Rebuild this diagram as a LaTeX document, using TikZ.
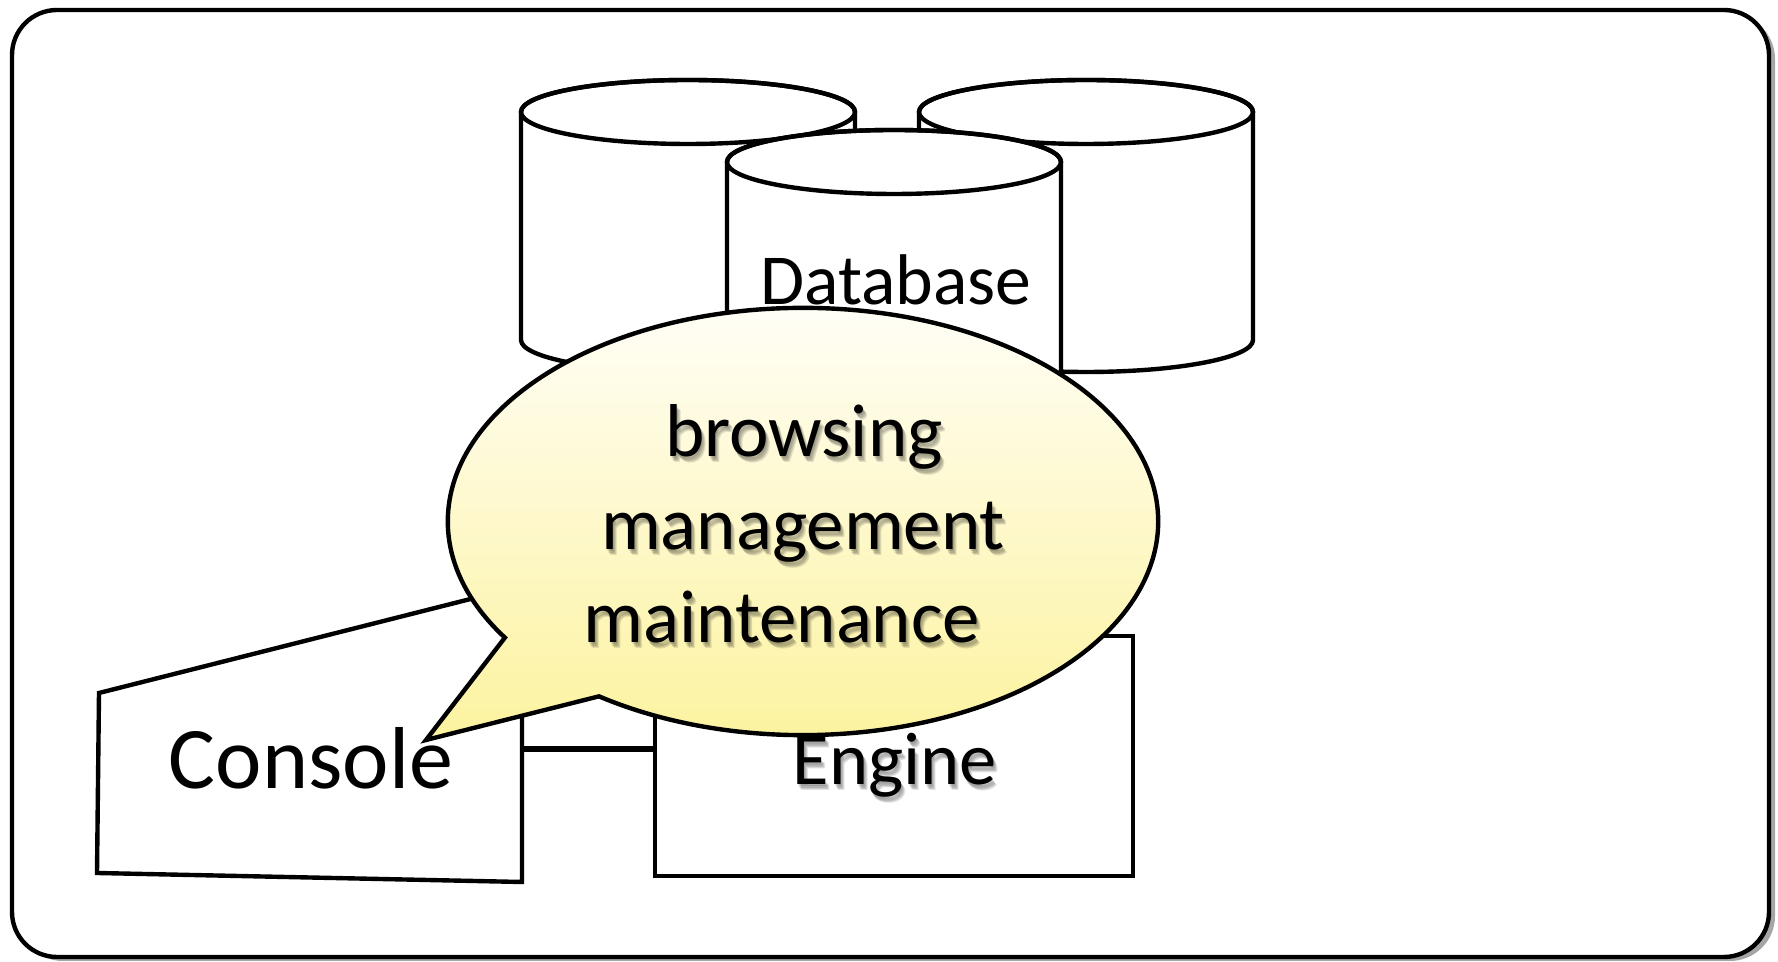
\documentclass[tikz,border=0pt]{standalone}
\usepackage{fontspec}
\setmainfont{Carlito}
\usetikzlibrary{shapes.callouts,shadows}
\definecolor{bubtop}{HTML}{FFFEF6}
\definecolor{bubbot}{HTML}{FCF29A}
\tikzset{
  outline/.style={draw=black, line width=1.25pt},
  drum/.style={outline, fill=white},
  capt/.style={inner sep=0pt, anchor=base},
  says/.style={capt, font=\fontsize{21.3pt}{26pt}\selectfont},
  engfont/.style={capt, font=\fontsize{21.2pt}{26pt}\selectfont},
  txtshade/.style={text=black, opacity=0.11},
}
\begin{document}
\begin{tikzpicture}[x=0.01cm,y=-0.01cm]
\useasboundingbox (0,0) rectangle (1778,962);
% frame
\draw[outline, fill=white, rounded corners=0.45cm, drop shadow={shadow xshift=0.06cm, shadow yshift=-0.04cm, opacity=0.7}] (12,10) rectangle (1769,957);
% three drums, the middle one in front
\foreach \cx/\cy in {688/112, 1086/112, 894/162} {
  \draw[drum] (\cx-167,\cy) -- ++(0,228) arc[start angle=180, end angle=0, x radius=167, y radius=32] -- ++(0,-228) arc[start angle=0, end angle=-180, x radius=167, y radius=32] -- cycle;
  \draw[outline] (\cx,\cy) ellipse[x radius=167, y radius=32];
}
\node[capt, font=\fontsize{20.4pt}{24pt}\selectfont] (dbtext) at (896,305) {Database};
% console and engine
\draw[outline, fill=white] (99,693) -- (522,586) -- (522,882) -- (97,873) -- cycle;
\coordinate (conR) at (522,749);
\node[capt, font=\fontsize{25pt}{30pt}\selectfont] (context) at (311,789) {Console};
\node[outline, fill=white, minimum width=4.78cm, minimum height=2.40cm, inner sep=0pt] (engine) at (894,756) {};
\draw[line width=1.9pt] (conR) -- (conR -| engine.west);
% the callout
\node[ellipse callout, outline, top color=bubtop, bottom color=bubbot, minimum width=7.1cm, minimum height=4.27cm, inner sep=0pt, callout absolute pointer={(426,740)}, callout pointer arc=22] (bubble) at (803,521.5) {};
% soft shadows under the texts
\foreach \dx/\dy in {1/2, 2/4, 3/5, 4/6} {
  \foreach \w/\x/\y in {browsing/804/457, management/803/550, maintenance/782/643} {
    \node[says, txtshade] (\w-sh\dy) at (\x+\dx,\y+\dy) {\w};
  }
  \node[engfont, txtshade] (engtext-sh\dy) at (895+\dx,785+\dy) {Engine};
}
\foreach \w/\x/\y in {browsing/804/457, management/803/550, maintenance/782/643} {
  \node[says] (\w) at (\x,\y) {\w};
}
\node[engfont] (engtext) at (895,785) {Engine};
\end{tikzpicture}
\end{document}
